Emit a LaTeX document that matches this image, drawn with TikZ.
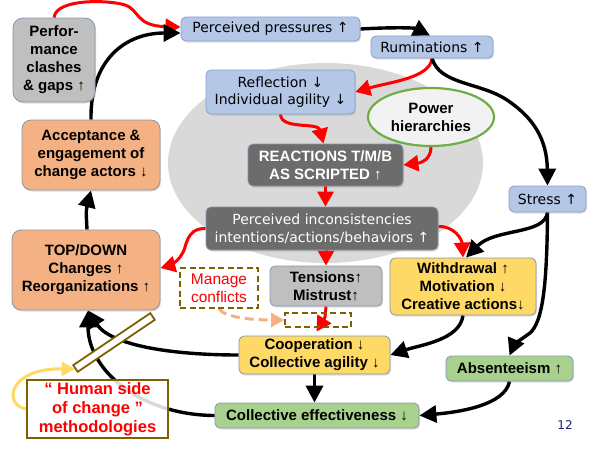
\documentclass[tikz,border=0pt]{standalone}
\usepackage{fontspec}
\setmainfont{Liberation Sans}
\newfontfamily\vfont{DejaVu Sans}
\usetikzlibrary{arrows.meta,shapes.geometric,shadows}
\definecolor{blueF}{RGB}{180,199,231}
\definecolor{blueB}{RGB}{132,160,210}
\definecolor{grayF}{RGB}{191,191,191}
\definecolor{dgrayF}{RGB}{108,108,108}
\definecolor{orF}{RGB}{244,177,131}
\definecolor{yeF}{RGB}{255,217,102}
\definecolor{grF}{RGB}{169,209,142}
\definecolor{bordc}{RGB}{132,151,176}
\definecolor{ellF}{RGB}{217,217,217}
\definecolor{pwF}{RGB}{242,242,242}
\definecolor{pwB}{RGB}{112,173,71}
\definecolor{brownB}{RGB}{127,96,0}
\definecolor{arrred}{RGB}{255,0,0}
\definecolor{peach}{RGB}{244,177,131}
\definecolor{navy}{RGB}{30,30,120}
\pgfdeclarelayer{bg}
\pgfdeclarelayer{mid}
\pgfsetlayers{bg,mid,main}
\tikzset{
  box/.style={draw=bordc, line width=0.8pt, rounded corners=5pt, inner sep=0pt, align=center,
    font=\fontsize{15}{18}\selectfont\bfseries, text=black,
    drop shadow={shadow xshift=1pt,shadow yshift=-1.5pt,opacity=0.25}},
  bluebox/.style={box, fill=blueF, draw=blueB, font=\vfont\fontsize{14}{17}\selectfont},
  dgbox/.style={box, fill=dgrayF, draw=bordc, text=white},
  graybox/.style={box, fill=grayF},
  orbox/.style={box, fill=orF, rounded corners=9pt},
  yebox/.style={box, fill=yeF},
  grbox/.style={box, fill=grF},
  dashbox/.style={draw=brownB, line width=1.8pt, dash pattern=on 6pt off 3.5pt, inner sep=0pt, align=center},
  blk/.style={draw=black, line width=3.4pt, -{Triangle[length=17pt,width=17pt]}},
  redarr/.style={draw=arrred, line width=3pt, -{Triangle[length=15pt,width=16pt]}},
}
\begin{document}
\begin{tikzpicture}[x=1pt,y=-1pt]
\useasboundingbox (0,0) rectangle (600,450);
\begin{pgfonlayer}{bg}
\node[ellipse, fill=ellF, minimum width=315pt, minimum height=200pt, inner sep=0pt] (zone) at (325.5,163) {};
\end{pgfonlayer}
% nodes
\node[graybox, rounded corners=10pt, minimum width=82pt, minimum height=84pt] (perf) at (54,60) {Perfor-\\mance\\clashes\\\& gaps ↑};
\node[bluebox, minimum width=179pt, minimum height=24pt] (pp) at (270.5,29) {Perceived pressures ↑};
\node[bluebox, minimum width=122pt, minimum height=22pt] (rum) at (432,47) {Ruminations ↑};
\node[bluebox, minimum width=149pt, minimum height=44pt] (refl) at (280.5,92) {Reflection ↓\\Individual agility ↓};
\node[ellipse, draw=pwB, fill=pwF, line width=2.2pt, minimum width=126pt, minimum height=58pt, inner sep=0pt, align=center, font=\fontsize{15}{18}\selectfont\bfseries] (power) at (431,117) {Power\\hierarchies};
\node[dgbox, minimum width=155pt, minimum height=42pt] (react) at (325.5,165) {REACTIONS T/M/B\\AS SCRIPTED ↑};
\node[dgbox, font=\vfont\fontsize{14}{18}\selectfont, minimum width=232pt, minimum height=43pt] (pinc) at (322,228.5) {Perceived inconsistencies\\intentions/actions/behaviors ↑};
\node[bluebox, minimum width=77pt, minimum height=26pt] (stress) at (547.5,199) {Stress ↑};
\node[orbox, minimum width=138pt, minimum height=70pt] (accept) at (91,155) {Acceptance \&\\engagement of\\change actors ↓};
\node[orbox, minimum width=148pt, minimum height=80pt] (topdown) at (86,270) {TOP/DOWN\\Changes ↑\\Reorganizations ↑};
\node[dashbox, minimum width=78pt, minimum height=40pt, text=arrred, font=\fontsize{15.5}{18}\selectfont] (manage) at (219,288) {Manage\\conflicts};
\node[graybox, minimum width=112pt, minimum height=40pt] (tens) at (326,286) {Tensions↑\\Mistrust↑};
\node[yebox, minimum width=146pt, minimum height=57pt] (withd) at (463,286.5) {Withdrawal ↑\\Motivation ↓\\Creative actions↓};
\node[dashbox, minimum width=66pt, minimum height=14pt] (smalld) at (318,320) {};
\node[yebox, minimum width=151pt, minimum height=38pt] (coop) at (314.5,355) {Cooperation ↓\\Collective agility ↓};
\node[grbox, minimum width=127pt, minimum height=25pt] (absent) at (509.5,368.5) {Absenteeism ↑};
\node[grbox, minimum width=204pt, minimum height=25pt] (colleff) at (317,415.5) {Collective effectiveness ↓};
\node[draw=brownB, line width=2pt, fill=white, fill opacity=0.85, text opacity=1, minimum width=141pt, minimum height=58pt, inner sep=0pt, align=center, text=arrred, font=\fontsize{16.5}{19}\selectfont\bfseries] (human) at (97.5,409) {“ Human side\\of change ”\\methodologies};
\node[draw=brownB, line width=1.8pt, fill=white, rotate=34, minimum width=93pt, minimum height=8pt, inner sep=0pt] (bar) at (114,342.5) {};
\node[text=navy, font=\vfont\fontsize{12}{14}\selectfont, inner sep=0pt] (pnum) at (565,425) {12};
% connectors
\begin{pgfonlayer}{mid}
\draw[redarr] (perf.north) .. controls (56,-2) and (110,0) .. (125,5) .. controls (140,10) and (135,26) .. ([yshift=2pt]pp.west);
\draw[blk] (accept.north) .. controls (90,60) and (125,33) .. ([yshift=-4pt]pp.west);
\draw[blk] (pp.east) .. controls (395,27) and (415,28) .. ([xshift=-2pt]rum.north);
\draw[redarr] (rum.south) .. controls (430,78) and (390,82) .. (refl.east);
\draw[blk] (rum.south) .. controls (440,85) and (480,82) .. (507,100) .. controls (534,118) and (547,140) .. (stress.north);
\draw[redarr] (refl.south) .. controls (281,130) and (318,122) .. ([xshift=-2pt]react.north);
\draw[redarr] (power.south) .. controls (431,160) and (420,163) .. (react.east);
\draw[redarr] (react.south) -- (react.south |- pinc.north);
\draw[redarr] (pinc.west) .. controls (185,228) and (187,248) .. (182,254) .. controls (178,262) and (168,266) .. ([yshift=2pt]topdown.east);
\draw[redarr] (tens.north |- pinc.south) -- (tens.north);
\draw[redarr] ([yshift=2pt]pinc.east) .. controls (455,226) and (462,240) .. (withd.north);
\draw[blk] (stress.south) .. controls (545,235) and (495,228) .. ([xshift=3pt]withd.north);
\draw[blk] (stress.south) .. controls (547,290) and (542,322) .. (530,333) .. controls (520,340) and (514,345) .. (absent.north);
\draw[blk] (withd.south) .. controls (460,340) and (420,345) .. (coop.east);
\draw[redarr] (tens.south) .. controls (325,318) .. ([xshift=2pt,yshift=4pt]coop.north);
\draw[draw=peach, line width=3pt, dash pattern=on 9pt off 5pt, -{Triangle[length=13pt,width=14pt]}] (manage.south) .. controls (225,318) and (255,320) .. (smalld.west);
\draw[blk] (coop.south) -- (coop.south |- colleff.north);
\draw[blk] (absent.south) .. controls (505,405) and (460,412) .. (colleff.east);
\draw[blk] (coop.west) .. controls (170,355) and (110,345) .. ([xshift=2pt]topdown.south);
\draw[blk] (colleff.west) .. controls (140,415) and (88,370) .. ([xshift=2pt]topdown.south);
\draw[blk] ([xshift=1pt]topdown.north) .. controls (86,210) .. (accept.south);
\draw[draw=yeF, line width=3pt, -{Triangle[length=13pt,width=14pt]}] (human.west) .. controls (3,405) and (8,368) .. (bar.west);
\end{pgfonlayer}
\end{tikzpicture}
\end{document}
